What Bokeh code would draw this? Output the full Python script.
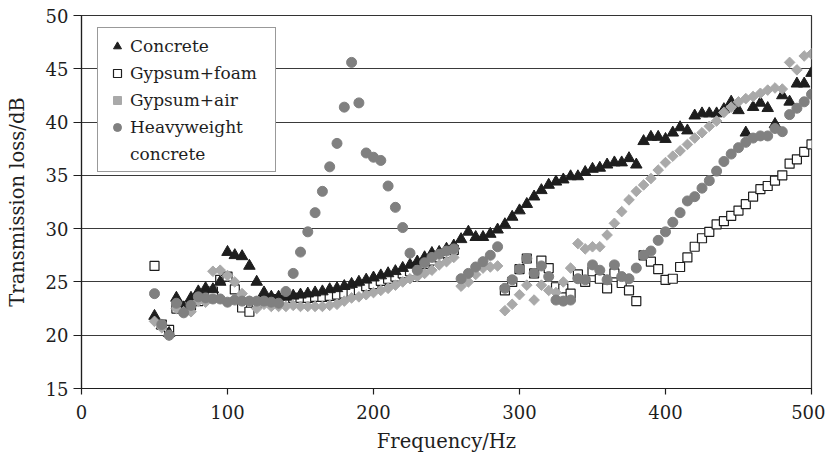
import numpy as np
from bokeh.plotting import figure
from bokeh.models import Legend, LegendItem, SingleIntervalTicker, ColumnDataSource
from bokeh.embed import file_html
from bokeh.resources import INLINE

freq = list(range(50, 505, 5))

concrete = [21.8, 20.9, 20.2, 23.5, 22.6, 23.5, 24.1, 24.4, 24.3, 25.0,
            27.8, 27.5, 27.4, 26.5, 25.0, 24.0, 23.6, 23.6, 23.6, 23.7,
            23.8, 23.9, 24.0, 24.1, 24.3, 24.4, 24.6, 24.8, 25.0, 25.2,
            25.4, 25.6, 25.8, 26.0, 26.3, 26.6, 26.9, 27.3, 27.7, 27.8,
            28.1, 28.4, 29.0, 29.7, 29.2, 29.2, 29.5, 29.9, 30.4, 31.1,
            31.7, 32.3, 33.0, 33.6, 34.1, 34.4, 34.6, 34.9, 34.9, 35.3,
            35.6, 35.7, 36.0, 36.2, 36.2, 36.6, 36.0, 38.2, 38.6, 38.6,
            38.4, 39.0, 39.5, 39.2, 40.6, 40.8, 40.8, 40.8, 41.2, 41.9,
            41.1, 39.0, 41.4, 41.8, 41.3, 39.8, 42.5, 41.9, 43.6, 43.6, 44.6]

gypsum_foam = [26.5, 21.0, 20.5, 22.5, 22.7, 22.8, 23.2, 23.6, 24.1, 25.2,
               25.5, 24.3, 22.6, 22.2, 23.0, 23.2, 23.4, 23.3, 23.3, 23.5,
               23.5, 23.5, 23.6, 23.6, 23.7, 23.8, 23.9, 24.0, 24.2, 24.6,
               24.8, 25.1, 25.3, 25.5, 25.8, 26.0, 26.4, 26.7, 27.0, 27.3,
               27.7, 28.0, None, None, None, None, None, None, 24.2, 25.0,
               26.2, 27.2, 25.8, 27.0, 26.3, 24.5, 24.4, 23.9, 25.7, 25.0,
               26.0, 25.3, 24.4, 25.8, 24.9, 24.2, 23.2, 27.5, 26.9, 26.2,
               25.2, 25.3, 26.4, 27.3, 28.3, 29.1, 29.7, 30.4, 30.7, 31.2,
               31.7, 32.3, 33.0, 33.7, 34.0, 34.5, 35.0, 36.1, 36.5, 37.2, 37.9]

gypsum_air = [21.3, 20.7, 20.0, 22.5, 22.2, 22.2, 23.2, 23.1, 26.0, 26.1,
              25.6, 25.0, 23.9, 23.2, 22.5, 22.9, 22.7, 22.7, 22.7, 22.8,
              22.7, 22.7, 22.7, 22.7, 22.8, 22.9, 23.2, 23.5, 23.6, 23.8,
              24.0, 24.2, 24.4, 24.7, 25.0, 25.3, 25.5, 25.8, 26.1, 26.6,
              26.9, 27.3, 24.6, 25.0, 25.7, 26.3, 26.4, 26.5, 22.3, 22.9,
              23.8, 24.7, 23.3, 24.7, 24.2, 24.0, 25.0, 26.3, 28.6, 28.1,
              28.3, 28.3, 29.4, 30.5, 31.6, 32.7, 33.5, 34.1, 34.7, 35.5,
              36.2, 36.8, 37.3, 37.9, 38.5, 39.0, 39.6, 40.1, 40.9, 41.4,
              41.9, 42.2, 42.4, 42.7, 43.0, 43.2, 43.1, 45.6, 44.9, 46.2, 46.4]

heavy_concrete = [23.9, 21.0, 20.0, 23.0, 22.1, 22.8, 23.6, 23.5, 23.4, 23.4,
                  23.1, 23.3, 23.2, 23.2, 23.2, 23.2, 23.1, 23.0, 24.1, 25.8,
                  27.8, 29.7, 31.5, 33.5, 35.8, 38.0, 41.4, 45.6, 41.8, 37.1,
                  36.7, 36.4, 34.0, 32.0, 30.1, 27.7, 26.1, 26.8, 27.3, 27.6,
                  27.9, 28.1, 25.3, 25.8, 26.4, 26.9, 27.5, 28.3, 24.4, 25.2,
                  26.2, 27.2, 25.8, 26.5, 25.5, 23.3, 23.2, 23.3, 25.3, 25.2,
                  26.6, 26.1, 25.2, 26.6, 25.5, 25.3, 26.3, 27.5, 27.9, 28.9,
                  29.7, 30.6, 31.5, 32.6, 33.0, 33.8, 34.5, 35.4, 36.3, 37.0,
                  37.6, 38.1, 38.5, 38.7, 38.7, 39.4, 39.1, 40.7, 41.3, 41.9, 42.6]

x_ticks_step = 100
y_ticks_step = 5

FONT = "DejaVu Serif"
INK = "#1e1e1e"


def src(vals):
    xs, ys = [], []
    for f, v in zip(freq, vals):
        if v is not None:
            xs.append(f)
            ys.append(v)
    return ColumnDataSource(dict(x=xs, y=ys))


p = figure(width=825, height=455, x_range=(0, 500), y_range=(15, 50),
           output_backend="svg", toolbar_location=None,
           min_border_left=81, min_border_right=14, min_border_top=15, min_border_bottom=64)
p.background_fill_color = "white"
p.border_fill_color = "white"
p.outline_line_color = "#333333"
p.outline_line_width = 1.2

p.xgrid.grid_line_color = None
p.ygrid.grid_line_color = "#3a3a3a"
p.ygrid.grid_line_width = 1.2

p.xaxis.ticker = SingleIntervalTicker(interval=x_ticks_step, num_minor_ticks=0)
p.yaxis.ticker = SingleIntervalTicker(interval=y_ticks_step, num_minor_ticks=0)
for ax in (p.xaxis[0], p.yaxis[0]):
    ax.axis_line_color = INK
    ax.axis_line_width = 1.2
    ax.major_tick_line_color = INK
    ax.major_tick_line_width = 1.2
    ax.major_tick_in = 0
    ax.minor_tick_line_color = None
    ax.major_label_text_font = FONT
    ax.major_label_text_font_size = "18px"
    ax.major_label_text_color = INK
    ax.axis_label_text_font = FONT
    ax.axis_label_text_font_size = "19.5px"
    ax.axis_label_text_font_style = "normal"
    ax.axis_label_text_color = INK
p.xaxis.major_tick_out = 6
p.yaxis.major_tick_out = 8
p.xaxis.major_label_standoff = 10
p.yaxis.major_label_standoff = 5
p.xaxis.axis_label = "Frequency/Hz"
p.yaxis.axis_label = "Transmission loss/dB"
p.xaxis.axis_label_standoff = 8
p.yaxis.axis_label_standoff = 14

r_foam = p.scatter("x", "y", source=src(gypsum_foam), marker="square", size=9,
                   fill_color="white", line_color=INK, line_width=1.2)
r_conc = p.scatter("x", "y", source=src(concrete), marker="triangle", size=11.5,
                   fill_color=INK, line_color=INK)
r_air = p.scatter("x", "y", source=src(gypsum_air), marker="square", angle=np.pi / 4, size=7.5,
                  fill_color="#a9a9a9", line_color="#a9a9a9")
r_heavy = p.scatter("x", "y", source=src(heavy_concrete), marker="circle", size=10,
                    fill_color="#808080", line_color="#808080")
r_blank = p.scatter(x=[], y=[], marker="circle", size=1, fill_alpha=0, line_alpha=0)

legend = Legend(items=[
    LegendItem(label="Concrete", renderers=[r_conc]),
    LegendItem(label="Gypsum+foam", renderers=[r_foam]),
    LegendItem(label="Gypsum+air", renderers=[r_air]),
    LegendItem(label="Heavyweight", renderers=[r_heavy]),
    LegendItem(label="concrete", renderers=[r_blank]),
], location=(16, 216))
legend.border_line_color = "#333333"
legend.border_line_width = 1.2
legend.background_fill_alpha = 1
legend.label_text_font = FONT
legend.label_text_font_size = "17px"
legend.label_text_color = INK
legend.label_height = 21
legend.label_width = 138
legend.glyph_width = 24
legend.glyph_height = 20
legend.label_standoff = 1
legend.padding = 7
legend.spacing = 6
legend.margin = 0
p.add_layout(legend)

open("out.html", "w").write(file_html(p, INLINE))
